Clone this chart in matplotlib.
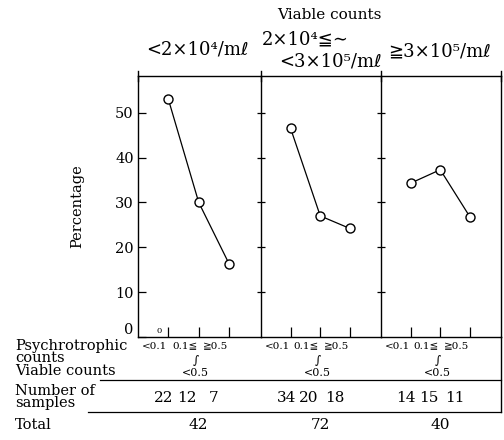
import matplotlib
matplotlib.use("Agg")
import matplotlib.pyplot as plt
from matplotlib.transforms import blended_transform_factory

plt.rcParams['font.family'] = ['DejaVu Serif', 'DejaVu Sans', 'Noto Sans CJK JP']

# ---- data ----
group_labels = ['<2×10⁴/mℓ', '2×10⁴≦∼\n<3×10⁵/mℓ', '≧3×10⁵/mℓ']
psychro_cats = ['<0.1', '0.1≦', '≧0.5']
pct_g1 = [53.0, 30.0, 16.3]
pct_g2 = [46.5, 27.0, 24.2]
pct_g3 = [34.3, 37.3, 26.8]
n_g1 = [22, 12, 7]
n_g2 = [34, 20, 18]
n_g3 = [14, 15, 11]
totals = [42, 72, 40]
yticks = [0, 10, 20, 30, 40, 50]

pcts = [pct_g1, pct_g2, pct_g3]
ns = [n_g1, n_g2, n_g3]

W, H = 504, 440
fig = plt.figure(figsize=(W / 100, H / 100), dpi=100)

def fx(x):
    return x / W

def fy(y):
    return 1 - y / H

panel_edges = [138, 261, 381, 501]
top_px, bot_px = 76, 337

axes = []
for i in range(3):
    l, r = panel_edges[i], panel_edges[i + 1]
    ax = fig.add_axes([fx(l), fy(bot_px), (r - l) / W, (bot_px - top_px) / H])
    axes.append(ax)

for i, ax in enumerate(axes):
    xs = list(range(len(psychro_cats)))
    ax.plot(xs, pcts[i], color='black', lw=0.9, marker='o', ms=6.5,
            mfc='white', mec='black', mew=1.0, zorder=3)
    ax.set_xlim(-1.0, 3.05)
    ax.set_ylim(0, 58.2)
    ax.set_xticks(xs)
    ax.set_xticklabels([])
    ax.tick_params(axis='x', direction='in', length=7, width=0.9, top=False)
    ax.set_yticks(yticks[1:] if i > 0 else yticks)
    if i == 0:
        ax.tick_params(axis='y', direction='in', length=6, width=0.9,
                       labelsize=10.5, pad=3)
    else:
        ax.tick_params(axis='y', direction='inout', length=6, width=0.9,
                       labelleft=False)
    for s in ax.spines.values():
        s.set_linewidth(1.0)
    ax.spines['right'].set_visible(i == 2)
    ax.set_facecolor('none')

    tr = blended_transform_factory(ax.transData, fig.transFigure)
    # psychrotrophic category labels
    ax.text(-0.45, fy(346), psychro_cats[0], transform=tr, fontsize=7.5,
            ha='center', va='center')
    ax.text(0.95, fy(346), psychro_cats[1], transform=tr, fontsize=7.5,
            ha='right', va='center')
    ax.text(1.12, fy(346), psychro_cats[2], transform=tr, fontsize=7.5,
            ha='left', va='center')
    ax.text(0.9, fy(360), '∫', transform=tr, fontsize=8.5,
            ha='center', va='center')
    ax.text(0.9, fy(373), '<0.5', transform=tr, fontsize=8,
            ha='center', va='center')
    # sample numbers
    for xp, n in zip([-0.15, 0.62, 1.5], ns[i]):
        ax.text(xp, fy(398), str(n), transform=tr, fontsize=11,
                ha='center', va='center')
    ax.text(1.0, fy(425), str(totals[i]), transform=tr, fontsize=11,
            ha='center', va='center')

fig.canvas.draw()
axes[0].get_yticklabels()[0].set_va('bottom')

axes[0].set_ylabel('Percentage', fontsize=10.5, labelpad=22)
axes[0].text(-0.3, fy(331), '0', transform=blended_transform_factory(
    axes[0].transData, fig.transFigure), fontsize=6, ha='center',
    va='center')

# overlay for frame lines / headers
ov = fig.add_axes([0, 0, 1, 1])
ov.set_xlim(0, W)
ov.set_ylim(H, 0)
ov.axis('off')
ov.set_facecolor('none')

for x in panel_edges:
    ov.plot([x, x], [71, 81], color='black', lw=1.0)
ov.plot([501, 501], [337, 412], color='black', lw=1.0)
ov.plot([100, 501], [380, 380], color='black', lw=0.9)
ov.plot([88, 501], [412, 412], color='black', lw=0.9)

ov.text(329, 15, 'Viable counts', fontsize=11, ha='center', va='center')
ov.text(197, 50, group_labels[0], fontsize=13, ha='center', va='center')
g2a, g2b = group_labels[1].split('\n')
ov.text(305, 40, g2a, fontsize=13, ha='center', va='center')
ov.text(330, 61, g2b, fontsize=13, ha='center', va='center')
ov.text(439, 52, group_labels[2], fontsize=13, ha='center', va='center')

ov.text(15, 339, 'Psychrotrophic\ncounts\nViable counts', fontsize=10.5,
        ha='left', va='top', linespacing=0.85)
ov.text(15, 384, 'Number of\nsamples', fontsize=10.5,
        ha='left', va='top', linespacing=0.85)
ov.text(15, 425, 'Total', fontsize=10.5, ha='left', va='center')

fig.savefig('out.png', dpi=100)
